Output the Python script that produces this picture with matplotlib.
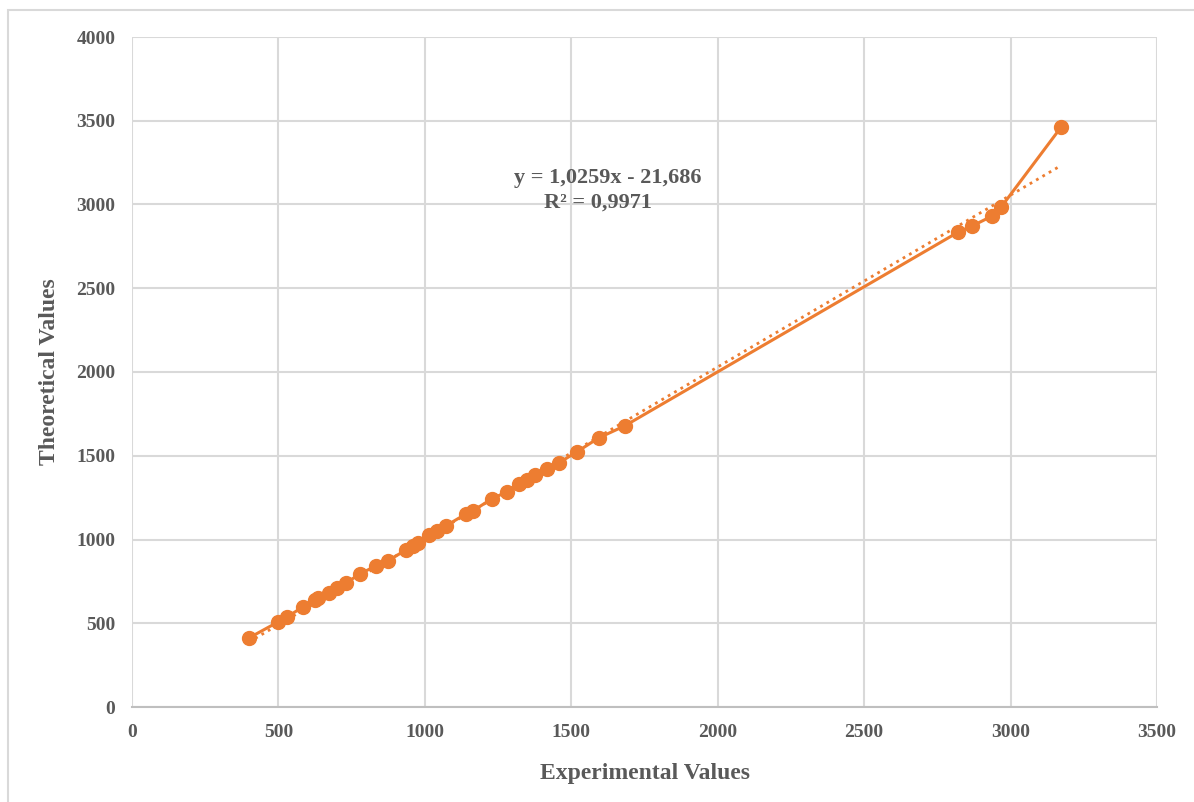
import numpy as np
import matplotlib.pyplot as plt
from matplotlib.patches import Rectangle

# experimental vs theoretical values
experimental = [399, 498, 529, 583, 624, 635, 672, 699, 730, 778, 832, 873,
                935, 959, 976, 1013, 1041, 1071, 1140, 1163, 1228, 1279,
                1320, 1348, 1375, 1416, 1457, 1518, 1593, 1682,
                2822, 2869, 2937, 2968, 3173]
theoretical = [412, 507, 537, 597, 639, 651, 681, 710, 740, 794, 842, 872,
               937, 961, 979, 1027, 1051, 1081, 1152, 1170, 1242, 1284,
               1331, 1355, 1385, 1421, 1457, 1522, 1606, 1678,
               2836, 2872, 2931, 2985, 3463]

slope = 1.0259
intercept = -21.686

ORANGE = "#ED7D31"
GREY = "#595959"
GRID = "#D9D9D9"

plt.rcParams['font.family'] = ['Liberation Serif', 'DejaVu Serif']
plt.rcParams['font.weight'] = 'bold'

fig = plt.figure(figsize=(11.94, 8.02), dpi=100)
ax = fig.add_axes([132 / 1194, 1 - 707 / 802, 1025 / 1194, 670 / 802])

# outer chart border (only top/left are inside the picture)
fig.patches.append(Rectangle((8 / 1194, -0.05), 1.1, 1 - 10 / 802 + 0.05,
                             transform=fig.transFigure, fill=False,
                             edgecolor=GRID, linewidth=1.5))

ax.plot(experimental, theoretical, '-o', color=ORANGE, linewidth=2.2,
        markersize=10, zorder=3)

xs = np.array([min(experimental), max(experimental)])
ax.plot(xs, slope * xs + intercept, ':', color=ORANGE, linewidth=2, zorder=2)

ax.text(1624, 3160, "y = 1,0259x - 21,686", ha='center', va='center',
        fontsize=16, color=GREY, fontweight='bold')
ax.text(1590, 3010, "R² = 0,9971", ha='center', va='center',
        fontsize=16, color=GREY, fontweight='bold')

ax.set_xlim(0, 3500)
ax.set_ylim(0, 4000)
ax.set_xticks(np.arange(0, 3501, 500))
ax.set_yticks(np.arange(0, 4001, 500))
ax.grid(True, color=GRID, linewidth=1.5)
ax.set_axisbelow(True)
for s in ['top', 'right', 'left']:
    ax.spines[s].set_visible(False)
ax.spines['bottom'].set_color("#BFBFBF")
ax.spines['bottom'].set_linewidth(1.5)
ax.tick_params(length=0, labelsize=14, colors=GREY, pad=12)
for lbl in ax.get_xticklabels() + ax.get_yticklabels():
    lbl.set_fontweight('bold')

ax.set_xlabel("Experimental Values", fontsize=17, color=GREY,
              fontweight='bold', labelpad=16)
ax.set_ylabel("Theoretical Values", fontsize=17, color=GREY,
              fontweight='bold', labelpad=12)

plt.savefig("out.png", dpi=100)
